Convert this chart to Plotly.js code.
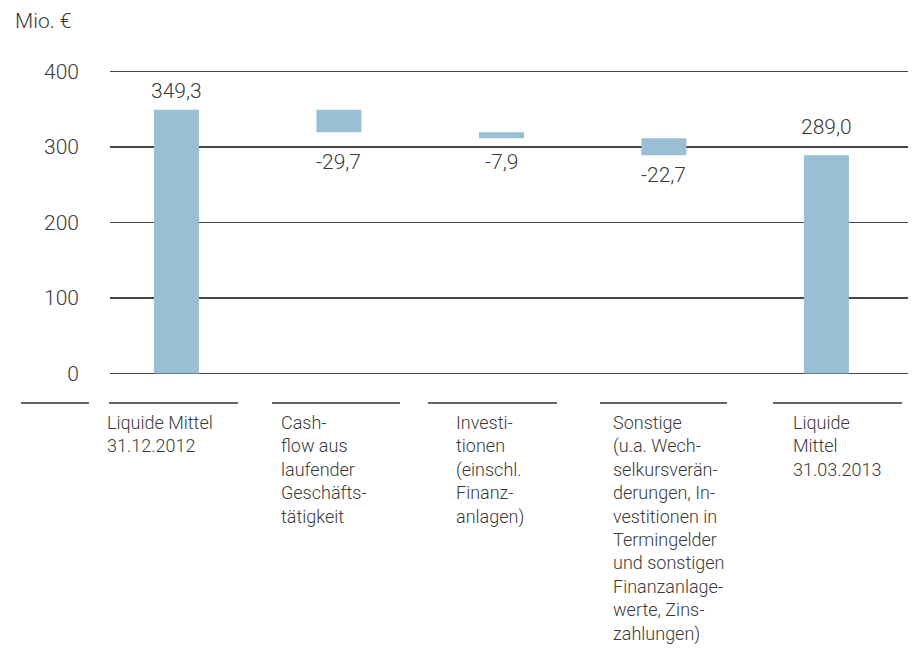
<!DOCTYPE html>
<html>
<head>
<meta charset="utf-8">
<script src="https://cdn.plot.ly/plotly-3.0.1.min.js"></script>
<style>html,body{margin:0;padding:0;background:#fff;}#chart{width:913px;height:663px;}</style>
</head>
<body>
<div id="chart"></div>
<script>
// ---- data ----
var categories = [
  "Liquide Mittel<br>31.12.2012",
  "Cash-<br>flow aus<br>laufender<br>Geschäfts-<br>tätigkeit",
  "Investi-<br>tionen<br>(einschl.<br>Finanz-<br>anlagen)",
  "Sonstige<br>(u.a. Wech-<br>selkursverän-<br>derungen, In-<br>vestitionen in<br>Termingelder<br>und sonstigen<br>Finanzanlage-<br>werte, Zins-<br>zahlungen)",
  "Liquide<br>Mittel<br>31.03.2013"
];
var measures = ["absolute", "relative", "relative", "relative", "total"];
var values = [349.3, -29.7, -7.9, -22.7, 289.0];
var tickVals = [0, 100, 200, 300, 400];
var unitLabel = "Mio. €";

// ---- derived bar geometry from values ----
var bases = [], lengths = [], ends = [];
var running = 0;
for (var i = 0; i < values.length; i++) {
  if (measures[i] === "absolute" || measures[i] === "total") {
    bases.push(0); lengths.push(values[i]); running = values[i];
  } else {
    bases.push(running); lengths.push(values[i]); running += values[i];
  }
  ends.push(bases[i] + lengths[i]);
}
function fmt(v) { return v.toFixed(1).replace('.', ','); }

// ---- layout geometry (pixels) ----
var W = 913, H = 663;
var mL = 110, mR = 5, mT = 64, mB = 282;
var pw = W - mL - mR, ph = H - mT - mB;
function xp(px) { return (px - mL) / pw; }
function yp(py) { return (H - mB - py) / ph; }

var textColor = "#3a3a3a";
var fontFam = "Roboto, 'DejaVu Sans', sans-serif";
var barColor = "#98bfd3";

var labelShift = [19, -30, -24, -20, 28];
var catLabelLeft = [107, 281, 456, 613, 793];
var sepSegments = [[21, 89], [109, 238], [272, 400], [428, 557], [600, 727], [773, 902]];

var annotations = [];
for (var i = 0; i < values.length; i++) {
  annotations.push({
    x: categories[i], y: ends[i], xref: 'x', yref: 'y',
    text: fmt(values[i]), showarrow: false,
    xanchor: 'center', yanchor: 'middle', yshift: labelShift[i],
    font: {family: fontFam, size: 21, color: textColor, weight: 300}
  });
  annotations.push({
    x: xp(catLabelLeft[i]), y: yp(410), xref: 'paper', yref: 'paper',
    text: categories[i], showarrow: false, align: 'left',
    xanchor: 'left', yanchor: 'top', xshift: -2,
    font: {family: fontFam, size: 18, color: textColor, weight: 300}
  });
}
annotations.push({
  x: xp(13), y: yp(21), xref: 'paper', yref: 'paper',
  text: unitLabel, showarrow: false, xanchor: 'left', yanchor: 'middle',
  font: {family: fontFam, size: 21, color: textColor, weight: 300}
});

var shapes = sepSegments.map(function (s) {
  return {type: 'line', xref: 'paper', yref: 'paper',
    x0: xp(s[0]), x1: xp(s[1]), y0: yp(403), y1: yp(403),
    line: {color: '#333333', width: 1.5}};
});

var trace = {
  type: 'bar',
  x: categories,
  y: lengths,
  base: bases,
  marker: {color: barColor, line: {width: 0}},
  hoverinfo: 'none',
  cliponaxis: false
};

var layout = {
  width: W, height: H,
  margin: {l: mL, r: mR, t: mT, b: mB, pad: 0},
  paper_bgcolor: '#ffffff', plot_bgcolor: '#ffffff',
  showlegend: false,
  bargap: 0.723,
  xaxis: {
    type: 'category', range: [-0.409, 4.502],
    showticklabels: false, showgrid: false, zeroline: false, showline: false, ticks: ''
  },
  yaxis: {
    range: [-10, 410], tickvals: tickVals,
    ticktext: tickVals.map(String),
    showgrid: true, gridcolor: '#444444', gridwidth: 1.5,
    zeroline: true, zerolinecolor: '#444444', zerolinewidth: 1.5,
    showline: false, ticks: '', ticklabelstandoff: 30,
    tickfont: {family: fontFam, size: 21, color: textColor, weight: 300}
  },
  font: {family: fontFam, color: textColor},
  annotations: annotations,
  shapes: shapes
};

Plotly.newPlot('chart', [trace], layout, {displayModeBar: false, staticPlot: true});
</script>
</body>
</html>
